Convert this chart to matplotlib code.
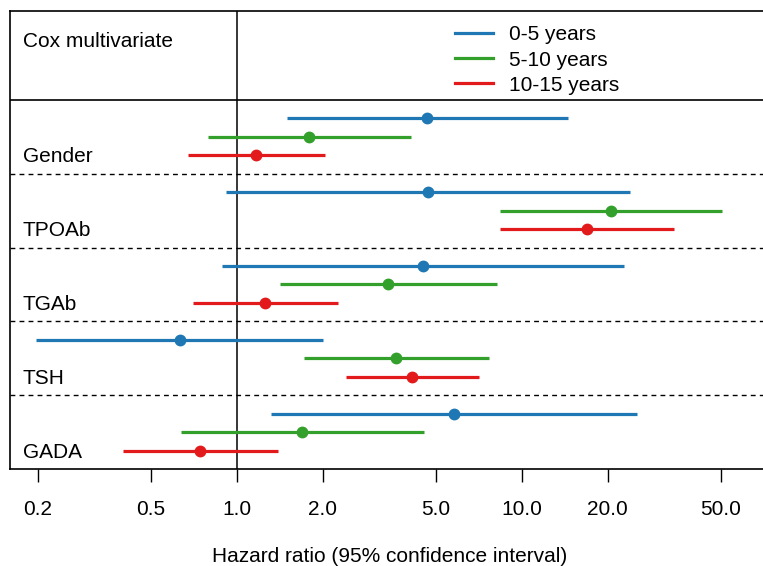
import matplotlib
matplotlib.use("Agg")
import matplotlib.pyplot as plt
import matplotlib.transforms as mtransforms
from matplotlib.lines import Line2D

plt.rcParams['font.family'] = ['Liberation Sans', 'DejaVu Sans']

variables = ["Gender", "TPOAb", "TGAb", "TSH", "GADA"]
periods = ["0-5 years", "5-10 years", "10-15 years"]
colors = ["#1f78b4", "#33a02c", "#e31a1c"]

# hazard ratios [variable][period]
hr = [
    [4.64, 1.79, 1.17],
    [4.68, 20.5, 17.0],
    [4.51, 3.38, 1.26],
    [0.63, 3.63, 4.12],
    [5.77, 1.69, 0.745],
]
lower = [
    [1.50, 0.79, 0.673],
    [0.92, 8.37, 8.37],
    [0.889, 1.42, 0.70],
    [0.198, 1.72, 2.41],
    [1.316, 0.636, 0.40],
]
upper = [
    [14.5, 4.08, 2.04],
    [24.0, 50.3, 34.3],
    [22.9, 8.16, 2.27],
    [2.0, 7.69, 7.06],
    [25.4, 4.52, 1.39],
]
tick_vals = [0.2, 0.5, 1.0, 2.0, 5.0, 10.0, 20.0, 50.0]
tick_labels = ["0.2", "0.5", "1.0", "2.0", "5.0", "10.0", "20.0", "50.0"]

FS = 15
W, H = 763, 566
fig = plt.figure(figsize=(W / 100, H / 100), dpi=100)
left_px, right_px, top_px, bot_px = 10, 770, 11, 469
ax = fig.add_axes([left_px / W, (H - bot_px) / H, (right_px - left_px) / W, (bot_px - top_px) / H])

n = len(variables)
group_h = 4
header_h = 4.82
ymax = n * group_h + header_h

for i, var in enumerate(variables):
    gtop = (n - i) * group_h
    for j in range(3):
        y = gtop - (j + 1)
        ax.plot([lower[i][j], upper[i][j]], [y, y], color=colors[j], lw=2.3,
                solid_capstyle='butt', zorder=3)
        ax.plot(hr[i][j], y, 'o', color=colors[j], ms=7.5, zorder=4)
    ax.text(0.017, gtop - 3.08, var, transform=ax.get_yaxis_transform(),
            fontsize=FS, va='center', ha='left')
    if i > 0:
        ax.axhline(gtop, color='black', lw=1.0, ls=(0, (3.5, 3)), zorder=2)

ax.axhline(n * group_h, color='black', lw=1.2, zorder=2)
ax.axvline(1.0, color='black', lw=1.1, zorder=2)
ax.text(0.017, ymax - 1.67, "Cox multivariate", transform=ax.get_yaxis_transform(),
        fontsize=FS, va='center', ha='left')

ax.set_xscale('log')
ax.set_xlim(0.16, 74.3)
ax.set_ylim(0, ymax)
ax.set_xticks(tick_vals)
ax.set_xticklabels(tick_labels)
ax.minorticks_off()
ax.set_yticks([])
ax.tick_params(axis='x', direction='out', length=9, width=1.0, pad=13.5, labelsize=FS)
for s in ['left', 'top', 'bottom']:
    ax.spines[s].set_linewidth(1.2)
ax.spines['right'].set_visible(False)

handles = [Line2D([], [], color=c, lw=2.3) for c in colors]
ax.legend(handles, periods, loc='center left',
          bbox_to_anchor=((455 - left_px) / (right_px - left_px), (bot_px - 60) / (bot_px - top_px)),
          frameon=False, fontsize=FS, handlelength=1.8, handletextpad=0.8,
          labelspacing=0.29, borderpad=0, borderaxespad=0)

xlabel_tr = mtransforms.blended_transform_factory(ax.transAxes, fig.transFigure)
ax.text(0.5, (H - 557) / H, "Hazard ratio (95% confidence interval)", fontsize=FS,
        ha='center', va='center', transform=xlabel_tr)

fig.savefig("out.png", dpi=100)
